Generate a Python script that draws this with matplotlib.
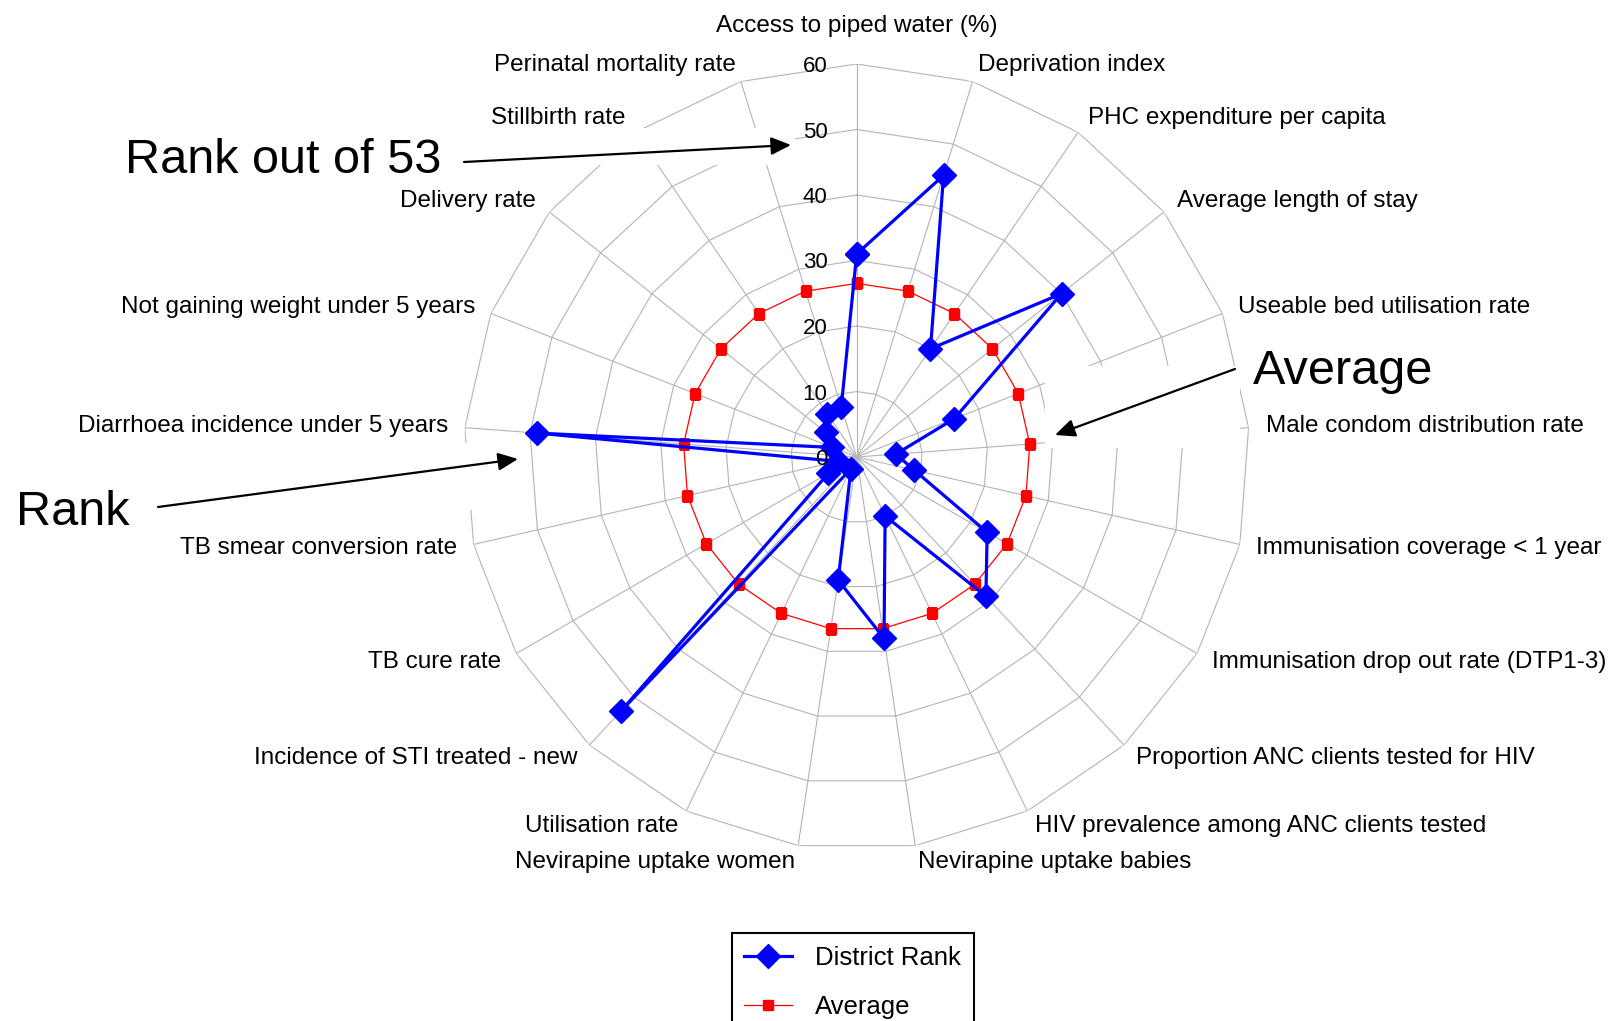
"""
District performance profile: radar chart of a district's rank (out of 53)
on 21 health indicators, plotted against the average rank.
"""

import numpy as np
import matplotlib.pyplot as plt
from matplotlib.patches import Rectangle

plt.rcParams['font.family'] = ['Liberation Sans', 'DejaVu Sans']

# Indicators, clockwise from the top spoke
categories = [
    'Access to piped water (%)',
    'Deprivation index',
    'PHC expenditure per capita',
    'Average length of stay',
    'Useable bed utilisation rate',
    'Male condom distribution rate',
    'Immunisation coverage < 1 year',
    'Immunisation drop out rate (DTP1-3)',
    'Proportion ANC clients tested for HIV',
    'HIV prevalence among ANC clients tested',
    'Nevirapine uptake babies',
    'Nevirapine uptake women',
    'Utilisation rate',
    'Incidence of STI treated - new',
    'TB cure rate',
    'TB smear conversion rate',
    'Diarrhoea incidence under 5 years',
    'Not gaining weight under 5 years',
    'Delivery rate',
    'Stillbirth rate',
    'Perinatal mortality rate',
]

district_rank = [31, 45, 20, 40, 16, 6, 9, 23, 29, 10, 28,
                 19, 2, 53, 5, 3, 49, 4, 6, 8, 8]
average_rank = [26.5, 26.5, 26.5, 26.5, 26.5, 26.5, 26.5, 26.5, 26.5, 26.5,
                26.5, 26.5, 26.5, 26.5, 26.5, 26.5, 26.5, 26.5, 26.5, 26.5,
                26.5]

ring_values = [0, 10, 20, 30, 40, 50, 60]

W, H = 1611, 1021
CX, CY, R_PX = 856.7, 457.0, 393.0   # chart centre and outer radius (px)
GRID = '#b4b4b4'


def fx(x):
    return x / W


def fy(y):
    return 1 - y / H


fig = plt.figure(figsize=(W / 100, H / 100), dpi=100)
ax = fig.add_axes([fx(CX - R_PX), fy(CY + R_PX), 2 * R_PX / W, 2 * R_PX / H],
                  polar=True)
ax.set_theta_zero_location('N')
ax.set_theta_direction(-1)
ax.grid(False)
ax.set_xticks([])
ax.set_yticks([])
ax.spines['polar'].set_visible(False)
ax.patch.set_visible(False)

n = len(categories)
angles = np.linspace(0, 2 * np.pi, n, endpoint=False)
closed = np.append(angles, angles[0])

# polygon gridlines and spokes
for v in ring_values[1:]:
    ax.plot(closed, [v] * (n + 1), color=GRID, lw=0.8, zorder=1)
for a in angles:
    ax.plot([a, a], [0, ring_values[-1]], color=GRID, lw=0.8, zorder=1)

# white boxes behind the call-out arrows hide the grid underneath
for x0, y0, x1, y1 in [(455, 128, 795, 165), (1045, 366, 1240, 448),
                       (155, 443, 522, 510)]:
    ax.add_patch(Rectangle((fx(x0), fy(y1)), (x1 - x0) / W, (y1 - y0) / H,
                           transform=fig.transFigure, fc='white', ec='none',
                           zorder=2, clip_on=False))

h_avg, = ax.plot(closed, average_rank + average_rank[:1], color='red', lw=0.9,
                 marker='s', ms=7.5, zorder=3, label='Average')
h_dist, = ax.plot(closed, district_rank + district_rank[:1], color='blue',
                  lw=2.3, marker='D', ms=12, zorder=4, label='District Rank')

for v in ring_values:
    ax.annotate(str(v), xy=(0, v), xytext=(-21, 0), textcoords='offset points',
                ha='right', va='center_baseline', fontsize=16, zorder=5)

for a, name in zip(angles, categories):
    s = np.sin(a)
    if abs(s) < 1e-6:
        ax.text(a, 64.9, name, ha='center', va='baseline', fontsize=17.5,
                clip_on=False)
    else:
        ax.text(a, 62.6, name, ha='left' if s > 0 else 'right', va='center',
                fontsize=17.5, clip_on=False)

ax.set_ylim(0, ring_values[-1])

# call-outs
arrow = dict(arrowstyle='-|>,head_length=0.67,head_width=0.3', color='black',
             lw=1.6, mutation_scale=18, shrinkA=0, shrinkB=0)
for start, tip in [((464, 162), (791, 145)), ((1235, 369), (1055, 435)),
                   ((158, 507), (518, 459))]:
    ax.annotate('', xy=(fx(tip[0]), fy(tip[1])),
                xytext=(fx(start[0]), fy(start[1])),
                xycoords='figure fraction', textcoords='figure fraction',
                arrowprops=arrow, annotation_clip=False, zorder=6)

fig.text(fx(125), fy(173), 'Rank out of 53', fontsize=35, va='baseline')
fig.text(fx(1253), fy(384), 'Average', fontsize=35, va='baseline')
fig.text(fx(16), fy(525), 'Rank', fontsize=35, va='baseline')

leg = fig.legend(handles=[h_dist, h_avg], loc='upper left',
                 bbox_to_anchor=(fx(731.5), fy(933)), fontsize=18.5,
                 frameon=True, fancybox=False, edgecolor='black',
                 framealpha=1, borderpad=0.5, labelspacing=0.98,
                 handlelength=1.85, handletextpad=0.9, borderaxespad=0)
leg.get_frame().set_linewidth(1.5)

fig.savefig('out.png', dpi=100)
